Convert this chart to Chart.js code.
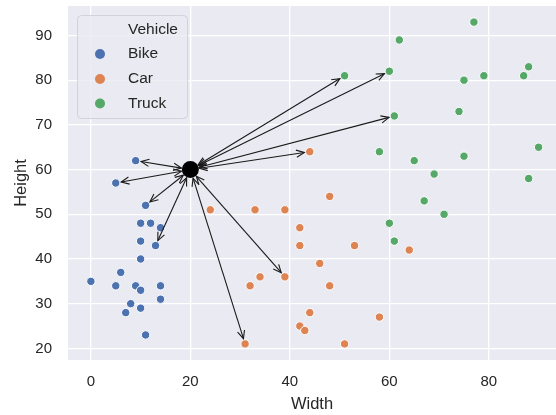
<!DOCTYPE html>
<html>
<head>
<meta charset="utf-8">
<script src="https://cdn.jsdelivr.net/npm/chart.js@4.4.1/dist/chart.umd.min.js"></script>
<style>
html, body { margin: 0; padding: 0; background: #fff; overflow: hidden; }
</style>
</head>
<body>
<canvas id="canvas" width="556" height="415"></canvas>
<script>
// vehicle data (Width, Height)
var categories = ["Bike", "Car", "Truck"];
var bikeX = [9, 5, 11, 10, 12, 14, 10, 13, 10, 6, 0, 5, 9, 10, 14, 14, 8, 10, 7, 11];
var bikeY = [62, 57, 52, 48, 48, 47, 44, 43, 40, 37, 35, 34, 34, 33, 34, 31, 30, 29, 28, 23];
var carX = [44, 48, 24, 33, 39, 42, 42, 53, 64, 46, 34, 39, 32, 48, 44, 58, 42, 43, 31, 51];
var carY = [64, 54, 51, 51, 51, 47, 43, 43, 42, 39, 36, 36, 34, 34, 28, 27, 25, 24, 21, 21];
var truckX = [77, 62, 51, 60, 75, 79, 88, 87, 61, 74, 58, 65, 75, 69, 90, 88, 67, 71, 60, 61];
var truckY = [93, 89, 81, 82, 80, 81, 83, 81, 72, 73, 64, 62, 63, 59, 65, 58, 53, 50, 48, 44];

// the new point and its nearest neighbours
var queryPoint = [20, 60];
var nbX = [9, 5, 11, 13, 31, 39, 44, 51, 60, 61];
var nbY = [62, 57, 52, 43, 21, 36, 64, 81, 82, 72];

var xTicks = [0, 20, 40, 60, 80];
var yTicks = [20, 30, 40, 50, 60, 70, 80, 90];

var colors = ["#4C72B0", "#DD8452", "#55A868"];
var fontFamily = "'Liberation Sans', Arial, sans-serif";
var textColor = "#262626";

function pts(xs, ys) {
  return xs.map(function(x, i) { return {x: x, y: ys[i]}; });
}

var seriesX = [bikeX, carX, truckX];
var seriesY = [bikeY, carY, truckY];
var datasets = categories.map(function(name, i) {
  return {
    label: name,
    data: pts(seriesX[i], seriesY[i]),
    backgroundColor: colors[i],
    borderColor: "#ffffff",
    borderWidth: 1,
    pointRadius: 4.2
  };
});
datasets.push({
  label: "query",
  data: [{x: queryPoint[0], y: queryPoint[1]}],
  backgroundColor: "#000000",
  borderWidth: 0,
  pointRadius: 8.5
});

var bgPlugin = {
  id: "bg",
  beforeDraw: function(chart) {
    var a = chart.chartArea, ctx = chart.ctx;
    ctx.save();
    ctx.fillStyle = "#EAEAF2";
    ctx.fillRect(a.left, a.top, a.right - a.left, a.bottom - a.top);
    ctx.restore();
  }
};

function head(ctx, tx, ty, ux, uy) {
  var L = 8, W = 3.6;
  ctx.beginPath();
  ctx.moveTo(tx - ux * L - uy * W, ty - uy * L + ux * W);
  ctx.lineTo(tx, ty);
  ctx.lineTo(tx - ux * L + uy * W, ty - uy * L - ux * W);
  ctx.stroke();
}

var arrowPlugin = {
  id: "arrows",
  afterDatasetsDraw: function(chart) {
    var ctx = chart.ctx, xs = chart.scales.x, ys = chart.scales.y;
    var qx = xs.getPixelForValue(queryPoint[0]);
    var qy = ys.getPixelForValue(queryPoint[1]);
    ctx.save();
    ctx.strokeStyle = "#1a1a1a";
    ctx.lineWidth = 1.1;
    for (var i = 0; i < nbX.length; i++) {
      var tx = xs.getPixelForValue(nbX[i]);
      var ty = ys.getPixelForValue(nbY[i]);
      var dx = tx - qx, dy = ty - qy;
      var len = Math.sqrt(dx * dx + dy * dy);
      var ux = dx / len, uy = dy / len;
      var sx = qx + ux * 9, sy = qy + uy * 9;
      var ex = tx - ux * 5.5, ey = ty - uy * 5.5;
      ctx.beginPath();
      ctx.moveTo(sx, sy);
      ctx.lineTo(ex, ey);
      ctx.stroke();
      head(ctx, ex, ey, ux, uy);
      head(ctx, sx, sy, -ux, -uy);
    }
    ctx.restore();
  }
};

var legendPlugin = {
  id: "vehicleLegend",
  afterDraw: function(chart) {
    var ctx = chart.ctx;
    ctx.save();
    ctx.beginPath();
    ctx.roundRect(77.5, 15.5, 110, 103, 4);
    ctx.fillStyle = "rgba(234,234,242,0.8)";
    ctx.fill();
    ctx.strokeStyle = "#d2d2d8";
    ctx.lineWidth = 1;
    ctx.stroke();
    ctx.font = "15.5px " + fontFamily;
    ctx.fillStyle = textColor;
    ctx.textBaseline = "middle";
    ctx.textAlign = "left";
    var rows = [29.5, 54, 79, 103.5];
    ctx.fillText("Vehicle", 128, rows[0]);
    for (var i = 0; i < categories.length; i++) {
      ctx.beginPath();
      ctx.arc(100, rows[i + 1], 5, 0, Math.PI * 2);
      ctx.fillStyle = colors[i];
      ctx.fill();
      ctx.fillStyle = textColor;
      ctx.fillText(categories[i], 128, rows[i + 1]);
    }
    ctx.restore();
  }
};

new Chart(document.getElementById("canvas").getContext("2d"), {
  type: "scatter",
  data: {datasets: datasets},
  plugins: [bgPlugin, arrowPlugin, legendPlugin],
  options: {
    responsive: false,
    animation: false,
    layout: {autoPadding: false, padding: {top: 6, right: 0, left: 0, bottom: 0}},
    plugins: {legend: {display: false}, tooltip: {enabled: false}},
    scales: {
      x: {
        type: "linear",
        min: -4.6,
        max: 93.5,
        grid: {color: "#ffffff", lineWidth: 1.3, drawTicks: false},
        border: {display: false},
        ticks: {color: textColor, font: {family: fontFamily, size: 15}, padding: 13},
        title: {display: true, text: "Width", color: textColor,
                font: {family: fontFamily, size: 16.5}, padding: {top: 0, bottom: 1}},
        afterBuildTicks: function(s) { s.ticks = xTicks.map(function(v) { return {value: v}; }); },
        afterFit: function(s) { s.height = 55; s.paddingLeft = 0; s.paddingRight = 0; }
      },
      y: {
        type: "linear",
        min: 17.4,
        max: 96.6,
        grid: {color: "#ffffff", lineWidth: 1.3, drawTicks: false},
        border: {display: false},
        ticks: {color: textColor, font: {family: fontFamily, size: 15}, padding: 16},
        title: {display: true, text: "Height", color: textColor,
                font: {family: fontFamily, size: 16.5}, padding: {top: 12, bottom: 0}},
        afterBuildTicks: function(s) { s.ticks = yTicks.map(function(v) { return {value: v}; }); },
        afterFit: function(s) { s.width = 68; s.paddingTop = 0; s.paddingBottom = 0; }
      }
    }
  }
});
</script>
</body>
</html>
